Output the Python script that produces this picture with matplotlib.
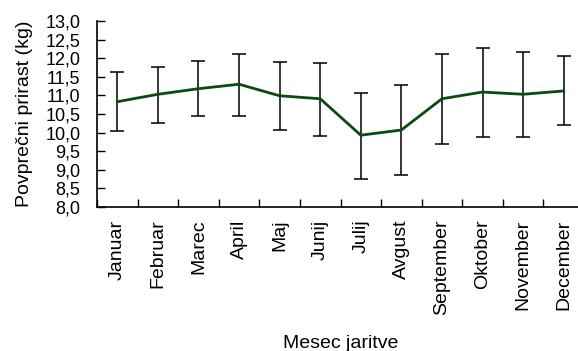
import matplotlib.pyplot as plt
import numpy as np
from matplotlib.ticker import FuncFormatter

plt.rcParams['font.family'] = ['Liberation Sans', 'DejaVu Sans']

meseci = ['Januar', 'Februar', 'Marec', 'April', 'Maj', 'Junij', 'Julij',
          'Avgust', 'September', 'Oktober', 'November', 'December']
prirast = [10.83, 11.03, 11.18, 11.30, 10.99, 10.91, 9.93, 10.07, 10.91, 11.09, 11.03, 11.12]
zgoraj = [11.62, 11.77, 11.92, 12.10, 11.90, 11.86, 11.06, 11.29, 12.10, 12.27, 12.16, 12.07]
spodaj = [10.05, 10.25, 10.45, 10.45, 10.08, 9.92, 8.75, 8.85, 9.69, 9.87, 9.89, 10.20]

prirast = np.array(prirast)
err = [prirast - np.array(spodaj), np.array(zgoraj) - prirast]
x = np.arange(len(meseci))

fig = plt.figure(figsize=(5.78, 3.51), dpi=100)
ax = fig.add_axes([97/578, 1 - 207/351, 487/578, 186/351])

ax.errorbar(x, prirast, yerr=err, fmt='none', ecolor='black', elinewidth=1.1,
            capsize=5, capthick=1.1, zorder=2)
ax.plot(x, prirast, color='#0b4a12', lw=2, zorder=3)

ax.set_xlim(-0.5, 11.5)
ax.set_ylim(8, 13)
ax.set_yticks(np.arange(8, 13.01, 0.5))
ax.yaxis.set_major_formatter(FuncFormatter(lambda v, p: ('%.1f' % v).replace('.', ',')))
ax.tick_params(axis='y', direction='in', length=6, width=1, labelsize=13, pad=12)

ax.set_xticks(x)
ax.set_xticklabels(meseci, rotation=90, fontsize=14)
ax.set_xticks(np.arange(-0.5, 11.6, 1), minor=True)
ax.tick_params(axis='x', which='major', length=0, pad=9)
ax.tick_params(axis='x', which='minor', direction='in', length=6, width=1)

for s in ['top', 'right']:
    ax.spines[s].set_visible(False)
for s in ['left', 'bottom']:
    ax.spines[s].set_linewidth(1.2)

ax.set_xlabel('Mesec jaritve', fontsize=14, labelpad=14)
ax.set_ylabel('Povprečni prirast (kg)', fontsize=14, labelpad=9)

fig.savefig('out.png', dpi=100)
